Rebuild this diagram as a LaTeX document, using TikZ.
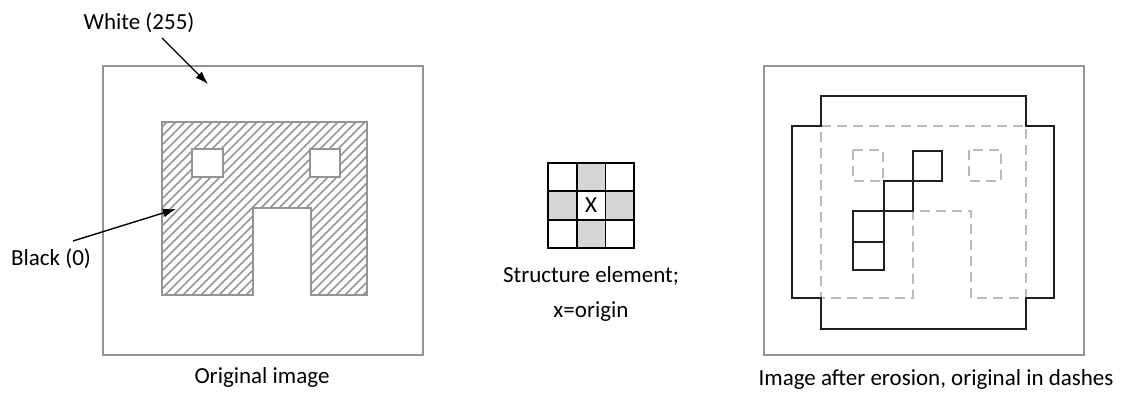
\documentclass[tikz,border=0pt]{standalone}
\usepackage{fontspec}
\setmainfont{Carlito}
\usetikzlibrary{arrows.meta}
\tikzset{
  frame/.style={draw=black!42, line width=1.3pt},
  hatchline/.style={draw=black!42, line width=1.7pt},
  shapeline/.style={draw=black!42, line width=1.4pt},
  orig/.style={draw=black!27, line width=2pt, dash pattern=on 10pt off 6pt},
  result/.style={draw=black!88, line width=1.6pt},
  segrid/.style={draw=black, line width=1.6pt},
  secell/.style={fill=black!16},
  lbl/.style={font=\fontsize{23}{27}\selectfont, inner sep=0pt},
  pointer/.style={draw=black, line width=1.4pt, -{Latex[length=13pt,width=9pt]}}
}
\begin{document}
\begin{tikzpicture}[x=1pt,y=-1pt]
\useasboundingbox (0,0) rectangle (1128,393);
% ---------- Original image ----------
\draw[frame] (103,66) rectangle (423,355);
\begin{scope}
  \clip (162,122) -- (367,122) -- (367,295) -- (311,295) -- (311,208) -- (253,208) -- (253,295) -- (162,295) -- cycle;
  \foreach \x in {-20,-11,...,380} {
    \draw[hatchline] (\x,300) -- (\x+180,120);
  }
\end{scope}
\draw[shapeline] (162,122) -- (367,122) -- (367,295) -- (311,295) -- (311,208) -- (253,208) -- (253,295) -- (162,295) -- cycle;
\draw[shapeline, fill=white] (192,149) rectangle (223,177);
\draw[shapeline, fill=white] (310,149) rectangle (340,177);
\node[lbl] (white) at (139,23) {White (255)};
\node[lbl] (black) at (51,259) {Black (0)};
\coordinate (wstart) at (162,38);
\coordinate (wtip) at (208,84);
\coordinate (bstart) at (73,241);
\coordinate (btip) at (176,209);
\draw[pointer] (wstart) -- (wtip);
\draw[pointer] (bstart) -- (btip);
\node[lbl] (cap1) at (262,377) {Original image};
% ---------- Structure element ----------
\fill[secell] (576.7,163) rectangle (605.3,191.3);
\fill[secell] (548,191.3) rectangle (576.7,219.7);
\fill[secell] (605.3,191.3) rectangle (634,219.7);
\fill[secell] (576.7,219.7) rectangle (605.3,248);
\draw[segrid] (548,163) rectangle (634,248);
\draw[segrid] (576.7,163) -- (576.7,248);
\draw[segrid] (605.3,163) -- (605.3,248);
\draw[segrid] (548,191.3) -- (634,191.3);
\draw[segrid] (548,219.7) -- (634,219.7);
\node[lbl] (origin) at (591,205.5) {X};
\node[lbl] (se1) at (591,276) {Structure element;};
\node[lbl] (se2) at (591,312) {x=origin};
% ---------- Result image ----------
\draw[frame] (764,66) rectangle (1084,355);
\draw[orig] (821,126) -- (1026,126) -- (1026,298) -- (971,298) -- (971,211) -- (913,211) -- (913,298) -- (821,298) -- cycle;
\draw[orig] (853,150) rectangle (883,181);
\draw[orig] (969,150) rectangle (1001,181);
\draw[result] (821,96) -- (1026,96) -- (1026,126) -- (1054,126) -- (1054,298) -- (1026,298) -- (1026,329) -- (821,329) -- (821,298) -- (792,298) -- (792,126) -- (821,126) -- cycle;
\draw[result] (913,151) rectangle (942,181);
\draw[result] (884,181) rectangle (913,211);
\draw[result] (853,211) rectangle (884,242);
\draw[result] (853,242) rectangle (884,270);
\node[lbl] (cap2) at (936,379) {Image after erosion, original in dashes};
\end{tikzpicture}
\end{document}
